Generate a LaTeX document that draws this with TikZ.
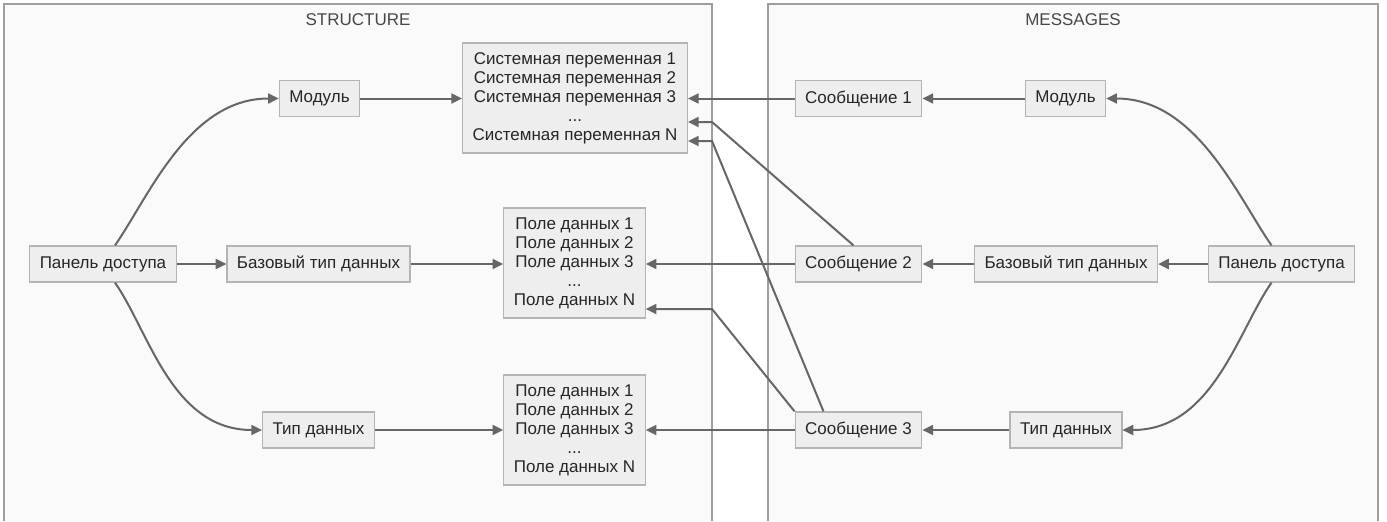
\documentclass[tikz,border=0pt]{standalone}
\usepackage{fontspec}
\setmainfont{Liberation Sans}
\usepackage{xcolor}
\usetikzlibrary{arrows.meta,calc}
\definecolor{edgegray}{HTML}{666666}
\definecolor{boxfill}{HTML}{EEEEEE}
\definecolor{boxline}{HTML}{B4B4B4}
\definecolor{clusterfill}{HTML}{FAFAFA}
\definecolor{clusterline}{HTML}{9E9E9E}
\definecolor{txt}{HTML}{262626}

\begin{document}
\begin{tikzpicture}[
  x=0.75pt, y=-0.75pt,
  font=\fontsize{12.75pt}{14.25pt}\selectfont,
  box/.style={draw=boxline, fill=boxfill, line width=0.9pt, text=txt,
              align=center, inner xsep=7.5pt, inner ysep=0pt, minimum height=27pt},
  listbox/.style={box, minimum height=82.5pt},
  frame/.style={draw=clusterline, line width=0.9pt},
  ttl/.style={text=txt!85!white, inner sep=1pt},
  flow/.style={-{Triangle[length=8pt,width=7.5pt]}, draw=edgegray, line width=1.5pt},
]
\useasboundingbox (0,0) rectangle (1387,521);

%% ---- clusters --------------------------------------------------------------
\fill[clusterfill] (4,4) rectangle (712,521);
\draw[frame] (4,521) |- (712,4) -- (712,521);
\node[ttl] (structT) at (358,20) {STRUCTURE};

\fill[clusterfill] (768,4) rectangle (1378,521);
\draw[frame] (768,521) |- (1378,4) -- (1378,521);
\node[ttl] (msgT) at (1073,20) {MESSAGES};

%% ---- structure side --------------------------------------------------------
\node[box] (panL)  at (103,264)   {Панель доступа};
\node[box] (modL)  at (319.5,98.5) {Модуль};
\node[box] (baseL) at (318.5,264) {Базовый тип данных};
\node[box] (typeL) at (318.5,430) {Тип данных};

\node[listbox] (sysv) at (575,98)
  {Системная переменная 1\\Системная переменная 2\\Системная переменная 3\\...\\Системная переменная N};
\node[listbox] (fld1) at (574.5,263)
  {Поле данных 1\\Поле данных 2\\Поле данных 3\\...\\Поле данных N};
\node[listbox] (fld2) at (574.5,430)
  {Поле данных 1\\Поле данных 2\\Поле данных 3\\...\\Поле данных N};

%% ---- messages side ---------------------------------------------------------
\node[box] (msg1)  at (858.5,98.5) {Сообщение 1};
\node[box] (msg2)  at (858.5,264)  {Сообщение 2};
\node[box] (msg3)  at (858.5,430)  {Сообщение 3};
\node[box] (modR)  at (1065.5,98.5) {Модуль};
\node[box] (baseR) at (1066,264)   {Базовый тип данных};
\node[box] (typeR) at (1066,430)   {Тип данных};
\node[box] (panR)  at (1281.5,264) {Панель доступа};

%% ---- flow, structure -------------------------------------------------------
\draw[flow] ($(panL.north)+(12,0)$) .. controls +(34,-49) and +(-90,0) .. (modL.west);
\draw[flow] (panL.east) -- (baseL.west);
\draw[flow] ($(panL.south)+(12,0)$) .. controls +(34,49) and +(-90,0) .. (typeL.west);
\draw[flow] (modL.east)  -- (modL.east -| sysv.west);
\draw[flow] (baseL.east) -- (baseL.east -| fld1.west);
\draw[flow] (typeL.east) -- (typeL.east -| fld2.west);

%% ---- flow, messages --------------------------------------------------------
\draw[flow] ($(panR.north)+(-10,0)$) .. controls +(-34,-49) and +(90,0) .. (modR.east);
\draw[flow] (panR.west) -- (baseR.east);
\draw[flow] ($(panR.south)+(-10,0)$) .. controls +(-34,49) and +(90,0) .. (typeR.east);
\draw[flow] (modR.west)  -- (msg1.east);
\draw[flow] (baseR.west) -- (msg2.east);
\draw[flow] (typeR.west) -- (msg3.east);

%% ---- messages into the structure -------------------------------------------
\draw[flow] (msg1.west) -- (msg1.west -| sysv.east);
\draw[flow] (msg2.west) -- (msg2.west -| fld1.east);
\draw[flow] (msg3.west) -- (msg3.west -| fld2.east);

\coordinate (kinkA) at (712,122);
\coordinate (kinkB) at (712,141);
\coordinate (kinkC) at (712,309);
\draw[flow] ($(msg2.north)+(-5,0)$)  -- (kinkA) -- (kinkA -| sysv.east);
\draw[flow] ($(msg3.north)+(-35,0)$) -- (kinkB) -- (kinkB -| sysv.east);
\draw[flow] (msg3.north west) -- (kinkC) -- (kinkC -| fld1.east);

\end{tikzpicture}
\end{document}
